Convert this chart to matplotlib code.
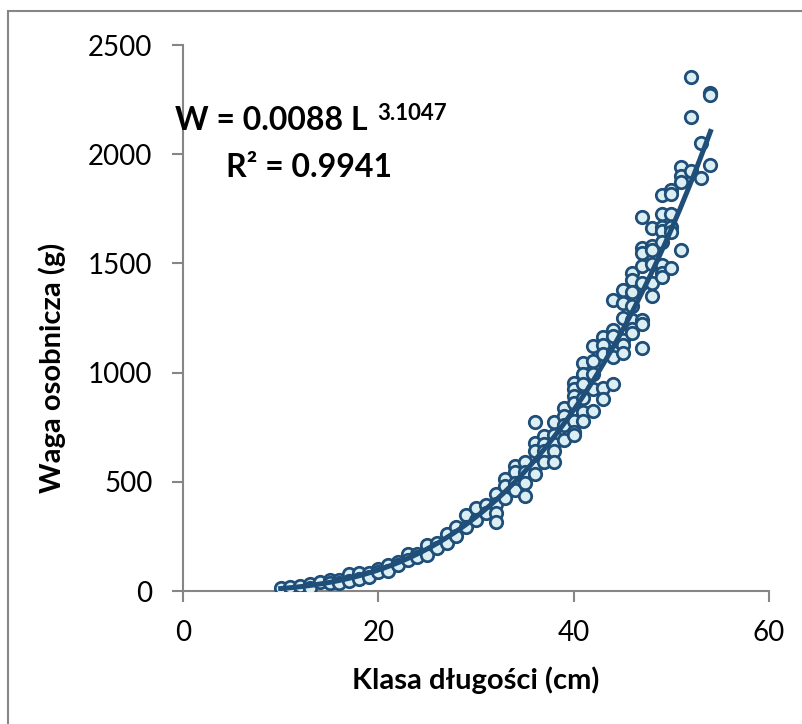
import matplotlib.pyplot as plt
from matplotlib.patches import Rectangle
import numpy as np

plt.rcParams['font.family'] = ['Lato', 'DejaVu Sans']

# length class (cm) and individual weight (g)
length = [10, 11, 12, 13, 13, 14, 15, 15, 16, 16, 17, 17, 18, 18, 19, 19,
          20, 20, 21, 21, 22, 22, 23, 23, 24, 24, 25, 25, 26, 26, 27, 27,
          28, 28, 29, 29, 30, 30, 31, 31, 32, 32, 32, 32, 33, 33, 33,
          34, 34, 34, 34, 35, 35, 35, 35, 36, 36, 36, 36, 36,
          37, 37, 37, 37, 38, 38, 38, 38, 38, 39, 39, 39, 39,
          40, 40, 40, 40, 40, 40, 40, 41, 41, 41, 41, 41, 41,
          42, 42, 42, 42, 42, 43, 43, 43, 43, 43, 44, 44, 44, 44, 44, 44,
          45, 45, 45, 45, 45, 45, 46, 46, 46, 46, 46, 46, 46,
          47, 47, 47, 47, 47, 47, 47, 47, 48, 48, 48, 48, 48, 48,
          49, 49, 49, 49, 49, 49, 49, 49, 50, 50, 50, 50, 50, 50,
          51, 51, 51, 51, 52, 52, 52, 53, 53, 54, 54, 54]
weight = [15, 19, 23, 30, 15, 40, 51, 36, 51, 36, 78, 44, 82, 57, 82, 65,
          103, 87, 120, 93, 135, 120, 171, 141, 171, 156, 209, 167, 220, 198, 262, 220,
          293, 251, 346, 293, 378, 325, 395, 357, 445, 399, 357, 315, 513, 483, 424,
          572, 547, 494, 462, 589, 547, 494, 435, 775, 678, 642, 568, 536,
          711, 673, 642, 589, 775, 716, 673, 642, 589, 838, 800, 758, 690,
          952, 927, 895, 863, 779, 726, 716, 1043, 994, 948, 884, 821, 779,
          1121, 1053, 994, 927, 825, 1163, 1127, 1085, 931, 880, 1332, 1197, 1169, 1096, 1070, 948,
          1380, 1317, 1252, 1148, 1127, 1089, 1454, 1423, 1370, 1307, 1243, 1201, 1180,
          1712, 1571, 1549, 1490, 1412, 1243, 1222, 1112, 1661, 1581, 1560, 1497, 1412, 1353,
          1813, 1725, 1665, 1649, 1492, 1454, 1437, 1600, 1834, 1818, 1725, 1665, 1645, 1480,
          1940, 1902, 1872, 1560, 2352, 2170, 1923, 2050, 1891, 2282, 2272, 1950]

# power trendline W = a * L^b
a = 0.0088
b = 3.1047
r2 = 0.9941

fig = plt.figure(figsize=(8.03, 7.24), dpi=100)
ax = fig.add_axes([0.2279, 0.1837, 0.7298, 0.7541])

ax.scatter(length, weight, s=80, facecolor='#DAEEF3', edgecolor='#1F4E79',
           linewidths=2.0, zorder=3)
fit_x = np.linspace(min(length), max(length), 200)
ax.plot(fit_x, a * fit_x ** b, color='#1F4E79', lw=3.6, zorder=4)

ax.set_xlim(0, 60)
ax.set_ylim(0, 2500)
ax.set_xticks([0, 20, 40, 60])
ax.set_yticks([0, 500, 1000, 1500, 2000, 2500])
for side in ['top', 'right']:
    ax.spines[side].set_visible(False)
for side in ['left', 'bottom']:
    ax.spines[side].set_color('#868686')
    ax.spines[side].set_linewidth(1.5)
ax.tick_params(direction='out', length=8, width=1.5, color='#868686',
               labelsize=20)
ax.tick_params(axis='x', pad=13)
ax.tick_params(axis='y', pad=14)

ax.set_xlabel('Klasa długości (cm)', fontsize=21, fontweight='bold')
ax.set_ylabel('Waga osobnicza (g)', fontsize=21, fontweight='bold')
ax.xaxis.set_label_coords(0.5, -0.163)
ax.yaxis.set_label_coords(-0.2235, 0.408)
ax.xaxis.label.set_va('center')
ax.yaxis.label.set_va('center')

ax.text(-0.0137, 0.844, f'W = {a} L', transform=ax.transAxes, fontsize=23,
        fontweight='bold', ha='left', va='baseline')
ax.text(0.331, 0.8626, f'{b}', transform=ax.transAxes, fontsize=16,
        fontweight='bold', ha='left', va='baseline')
ax.text(0.215, 0.758, f'R² = {r2}', transform=ax.transAxes, fontsize=23,
        fontweight='bold', ha='center', va='baseline')

fig.patches.append(Rectangle((8 / 803, -0.05), 1.2, 1 - 11 / 724 + 0.05,
                             transform=fig.transFigure, fill=False,
                             edgecolor='#868686', lw=1.5))

fig.savefig('out.png', dpi=100)
